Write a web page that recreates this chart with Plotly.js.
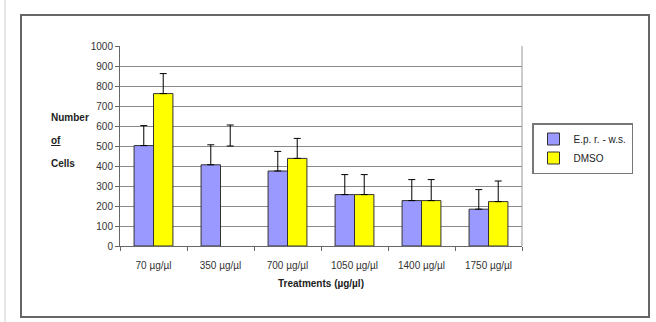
<!DOCTYPE html>
<html>
<head>
<meta charset="utf-8">
<script src="https://cdn.plot.ly/plotly-3.0.1.min.js"></script>
<style>html,body{margin:0;padding:0;background:#fff;}#chart{width:656px;height:322px;}</style>
</head>
<body>
<div id="chart"></div>
<script>
const categories = ['70 µg/µl', '350 µg/µl', '700 µg/µl', '1050 µg/µl', '1400 µg/µl', '1750 µg/µl'];
const eprValues = [502, 406, 375, 257, 227, 184];
const eprErrors = [100, 100, 98, 100, 105, 98];
const dmsoValues = [762, 500, 438, 257, 227, 222];
const dmsoErrors = [100, 105, 100, 100, 105, 103];
const dmsoBarShown = [true, false, true, true, true, true];
const yTicks = [0, 100, 200, 300, 400, 500, 600, 700, 800, 900, 1000];

const FONT = 'Liberation Sans, Arial, sans-serif';
const zeros = categories.map(() => 0);

const traces = [
  {
    type: 'bar', name: 'E.p. r. - w.s.', x: categories, y: eprValues,
    marker: {color: '#9999FF', line: {color: '#333333', width: 1}},
    error_y: {type: 'data', symmetric: false, array: eprErrors, arrayminus: zeros, color: '#000', thickness: 1, width: 3.5}
  },
  {
    type: 'bar', name: 'DMSO', x: categories, y: dmsoValues,
    marker: {
      color: dmsoBarShown.map(s => s ? '#FFFF00' : 'rgba(0,0,0,0)'),
      line: {color: dmsoBarShown.map(s => s ? '#333333' : 'rgba(0,0,0,0)'), width: 1}
    },
    error_y: {type: 'data', symmetric: false, array: dmsoErrors, arrayminus: zeros, color: '#000', thickness: 1, width: 3.5}
  }
];

const px = v => (v - 120) / 402;
const py = v => (246 - v) / 200;

const layout = {
  width: 656, height: 322,
  margin: {l: 120, r: 134, t: 46, b: 76},
  paper_bgcolor: '#fff', plot_bgcolor: '#fff',
  barmode: 'group', bargap: 0.42, bargroupgap: 0,
  font: {family: FONT, size: 10, color: '#333'},
  showlegend: true,
  legend: {
    x: px(532), y: py(123), xanchor: 'left', yanchor: 'top',
    bordercolor: '#777', borderwidth: 1.5, bgcolor: '#fff',
    font: {family: FONT, size: 10, color: '#222'},
    itemwidth: 30, tracegroupgap: 2
  },
  xaxis: {
    type: 'category', showgrid: false, showline: true, linecolor: '#666', linewidth: 1,
    ticks: 'outside', tickson: 'boundaries', ticklen: 4, tickcolor: '#666',
    ticklabelstandoff: 10,
    tickfont: {family: FONT, size: 10, color: '#333'},
    title: {text: '<b>Treatments (µg/µl)</b>', font: {family: FONT, size: 10, color: '#222'}, standoff: 9},
    zeroline: false, fixedrange: true
  },
  yaxis: {
    range: [0, 1000], tickvals: yTicks, ticktext: yTicks.map(String),
    showgrid: true, gridcolor: '#8a8a8a', gridwidth: 1,
    showline: true, linecolor: '#666', linewidth: 1,
    ticks: 'outside', ticklen: 4, tickcolor: '#666',
    tickfont: {family: FONT, size: 10, color: '#333'},
    zeroline: false, fixedrange: true
  },
  shapes: [
    {type: 'line', xref: 'paper', yref: 'paper', x0: 1, x1: 1, y0: 0, y1: 1, line: {color: '#999', width: 1}},
    {type: 'rect', xref: 'paper', yref: 'paper', x0: px(21), x1: px(649), y0: py(15), y1: py(317), line: {color: '#666', width: 2}},
    {type: 'line', xref: 'paper', yref: 'paper', x0: px(5), x1: px(5), y0: py(0), y1: py(322), line: {color: '#ccc', width: 1}}
  ],
  annotations: [
    {text: '<b>Number</b>', xref: 'paper', yref: 'paper', x: px(49), y: py(117), showarrow: false, font: {family: FONT, size: 10, color: '#222'}},
    {text: '<b><span style="text-decoration:underline">of</span></b>', xref: 'paper', yref: 'paper', x: px(49), y: py(140), showarrow: false, font: {family: FONT, size: 10, color: '#222'}},
    {text: '<b>Cells</b>', xref: 'paper', yref: 'paper', x: px(49), y: py(163), showarrow: false, font: {family: FONT, size: 10, color: '#222'}}
  ]
};

Plotly.newPlot('chart', traces, layout, {displayModeBar: false, staticPlot: true});
</script>
</body>
</html>
